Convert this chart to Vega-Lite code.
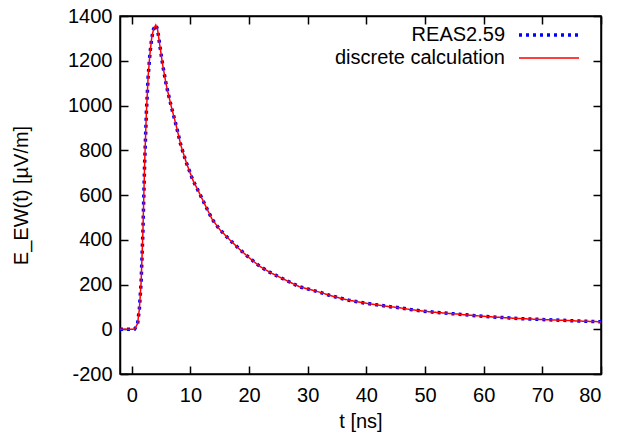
{
  "$schema": "https://vega.github.io/schema/vega-lite/v6.json",
  "width": 481,
  "height": 358,
  "autosize": {"type": "none"},
  "padding": {"left": 120, "top": 16, "right": 16, "bottom": 63},
  "background": "white",
  "config": {
    "view": {"stroke": "black", "strokeWidth": 1.5},
    "font": "Liberation Sans",
    "axis": {"grid": false, "domainColor": "black", "domainWidth": 1.5, "tickColor": "black", "tickWidth": 1.5, "tickSize": -8, "labelFontSize": 20, "labelColor": "black", "titleFontSize": 20, "titleFontWeight": "normal", "titleColor": "black", "labelFont": "Liberation Sans", "titleFont": "Liberation Sans"}
  },
  "data": {"values": [
    {"s":"REAS2.59","t":-2,"E":0},{"s":"REAS2.59","t":-1,"E":0},{"s":"REAS2.59","t":0,"E":0},{"s":"REAS2.59","t":0.5,"E":1},{"s":"REAS2.59","t":1,"E":25},{"s":"REAS2.59","t":1.3,"E":90},{"s":"REAS2.59","t":1.6,"E":210},{"s":"REAS2.59","t":1.9,"E":430},{"s":"REAS2.59","t":2.2,"E":740},{"s":"REAS2.59","t":2.5,"E":970},{"s":"REAS2.59","t":2.8,"E":1130},{"s":"REAS2.59","t":3.1,"E":1230},{"s":"REAS2.59","t":3.4,"E":1300},{"s":"REAS2.59","t":3.7,"E":1340},{"s":"REAS2.59","t":4.1,"E":1360},{"s":"REAS2.59","t":4.4,"E":1340},{"s":"REAS2.59","t":4.7,"E":1285},{"s":"REAS2.59","t":5.0,"E":1230},{"s":"REAS2.59","t":5.3,"E":1178},{"s":"REAS2.59","t":5.9,"E":1090},{"s":"REAS2.59","t":6.7,"E":1000},{"s":"REAS2.59","t":7.6,"E":908},{"s":"REAS2.59","t":8.4,"E":820},{"s":"REAS2.59","t":9.3,"E":745},{"s":"REAS2.59","t":10.4,"E":668},{"s":"REAS2.59","t":11.6,"E":605},{"s":"REAS2.59","t":12.7,"E":545},{"s":"REAS2.59","t":13.7,"E":492},{"s":"REAS2.59","t":15,"E":446},{"s":"REAS2.59","t":16.5,"E":405},{"s":"REAS2.59","t":18.4,"E":357},{"s":"REAS2.59","t":20,"E":320},{"s":"REAS2.59","t":21.8,"E":282},{"s":"REAS2.59","t":23.5,"E":255},{"s":"REAS2.59","t":25.2,"E":233},{"s":"REAS2.59","t":27,"E":210},{"s":"REAS2.59","t":28.6,"E":190},{"s":"REAS2.59","t":30.3,"E":178},{"s":"REAS2.59","t":32,"E":166},{"s":"REAS2.59","t":33.7,"E":152},{"s":"REAS2.59","t":35.4,"E":140},{"s":"REAS2.59","t":37,"E":130},{"s":"REAS2.59","t":38.9,"E":121},{"s":"REAS2.59","t":40.5,"E":114},{"s":"REAS2.59","t":42.3,"E":107},{"s":"REAS2.59","t":44,"E":101},{"s":"REAS2.59","t":45.7,"E":96},{"s":"REAS2.59","t":47.5,"E":88},{"s":"REAS2.59","t":49.7,"E":81},{"s":"REAS2.59","t":52,"E":75},{"s":"REAS2.59","t":55.4,"E":68},{"s":"REAS2.59","t":58,"E":62},{"s":"REAS2.59","t":61,"E":56},{"s":"REAS2.59","t":64,"E":51},{"s":"REAS2.59","t":66.7,"E":47},{"s":"REAS2.59","t":69.5,"E":44},{"s":"REAS2.59","t":72.4,"E":41},{"s":"REAS2.59","t":76,"E":37},{"s":"REAS2.59","t":79.3,"E":34},{"s":"REAS2.59","t":80,"E":34},
    {"s":"discrete calculation","t":-2,"E":0},{"s":"discrete calculation","t":-1,"E":0},{"s":"discrete calculation","t":0,"E":0},{"s":"discrete calculation","t":0.5,"E":1},{"s":"discrete calculation","t":1,"E":25},{"s":"discrete calculation","t":1.3,"E":90},{"s":"discrete calculation","t":1.6,"E":210},{"s":"discrete calculation","t":1.9,"E":430},{"s":"discrete calculation","t":2.2,"E":740},{"s":"discrete calculation","t":2.5,"E":970},{"s":"discrete calculation","t":2.8,"E":1130},{"s":"discrete calculation","t":3.1,"E":1230},{"s":"discrete calculation","t":3.4,"E":1300},{"s":"discrete calculation","t":3.7,"E":1340},{"s":"discrete calculation","t":4.1,"E":1360},{"s":"discrete calculation","t":4.4,"E":1340},{"s":"discrete calculation","t":4.7,"E":1285},{"s":"discrete calculation","t":5.0,"E":1230},{"s":"discrete calculation","t":5.3,"E":1178},{"s":"discrete calculation","t":5.9,"E":1090},{"s":"discrete calculation","t":6.7,"E":1000},{"s":"discrete calculation","t":7.6,"E":908},{"s":"discrete calculation","t":8.4,"E":820},{"s":"discrete calculation","t":9.3,"E":745},{"s":"discrete calculation","t":10.4,"E":668},{"s":"discrete calculation","t":11.6,"E":605},{"s":"discrete calculation","t":12.7,"E":545},{"s":"discrete calculation","t":13.7,"E":492},{"s":"discrete calculation","t":15,"E":446},{"s":"discrete calculation","t":16.5,"E":405},{"s":"discrete calculation","t":18.4,"E":357},{"s":"discrete calculation","t":20,"E":320},{"s":"discrete calculation","t":21.8,"E":282},{"s":"discrete calculation","t":23.5,"E":255},{"s":"discrete calculation","t":25.2,"E":233},{"s":"discrete calculation","t":27,"E":210},{"s":"discrete calculation","t":28.6,"E":190},{"s":"discrete calculation","t":30.3,"E":178},{"s":"discrete calculation","t":32,"E":166},{"s":"discrete calculation","t":33.7,"E":152},{"s":"discrete calculation","t":35.4,"E":140},{"s":"discrete calculation","t":37,"E":130},{"s":"discrete calculation","t":38.9,"E":121},{"s":"discrete calculation","t":40.5,"E":114},{"s":"discrete calculation","t":42.3,"E":107},{"s":"discrete calculation","t":44,"E":101},{"s":"discrete calculation","t":45.7,"E":96},{"s":"discrete calculation","t":47.5,"E":88},{"s":"discrete calculation","t":49.7,"E":81},{"s":"discrete calculation","t":52,"E":75},{"s":"discrete calculation","t":55.4,"E":68},{"s":"discrete calculation","t":58,"E":62},{"s":"discrete calculation","t":61,"E":56},{"s":"discrete calculation","t":64,"E":51},{"s":"discrete calculation","t":66.7,"E":47},{"s":"discrete calculation","t":69.5,"E":44},{"s":"discrete calculation","t":72.4,"E":41},{"s":"discrete calculation","t":76,"E":37},{"s":"discrete calculation","t":79.3,"E":34},{"s":"discrete calculation","t":80,"E":34}
  ]},
  "resolve": {"axis": {"x": "independent", "y": "independent"}},
  "layer": [
    {
      "mark": {"type": "line", "clip": true},
      "encoding": {
        "x": {"field": "t", "type": "quantitative", "scale": {"domain": [-2, 80], "nice": false, "zero": false}, "axis": {"orient": "bottom", "values": [0,10,20,30,40,50,60,70,80], "title": "t [ns]", "labelPadding": 19, "titlePadding": 6}},
        "y": {"field": "E", "type": "quantitative", "scale": {"domain": [-200, 1400], "nice": false}, "axis": {"orient": "left", "values": [-200,0,200,400,600,800,1000,1200,1400], "labelExpr": "datum.value + ''", "title": "E_EW(t) [µV/m]", "labelPadding": 16, "titlePadding": 36}},
        "color": {"field": "s", "type": "nominal", "scale": {"domain": ["REAS2.59", "discrete calculation"], "range": ["#0000ff", "#ff0000"]}, "legend": {"title": null, "orient": "none", "legendX": 417, "legendY": 7, "symbolType": "M-3,0H3", "symbolSize": 400, "labelFontSize": 20, "labelColor": "black", "labelFont": "Liberation Sans", "labelAlign": "right", "labelOffset": -56, "labelLimit": 0, "rowPadding": 2}},
        "strokeDash": {"field": "s", "type": "nominal", "scale": {"domain": ["REAS2.59", "discrete calculation"], "range": [[3, 4], [1, 0]]}, "legend": null},
        "strokeWidth": {"field": "s", "type": "nominal", "scale": {"domain": ["REAS2.59", "discrete calculation"], "range": [3.5, 1.5]}, "legend": null},
        "order": {"field": "t", "type": "quantitative"}
      }
    },
    {
      "mark": {"type": "point", "opacity": 0},
      "encoding": {
        "x": {"field": "t", "type": "quantitative", "axis": {"orient": "top", "values": [0,10,20,30,40,50,60,70,80], "labels": false, "title": null}},
        "y": {"field": "E", "type": "quantitative", "axis": {"orient": "right", "values": [-200,0,200,400,600,800,1000,1200,1400], "labels": false, "title": null}}
      }
    }
  ]
}
